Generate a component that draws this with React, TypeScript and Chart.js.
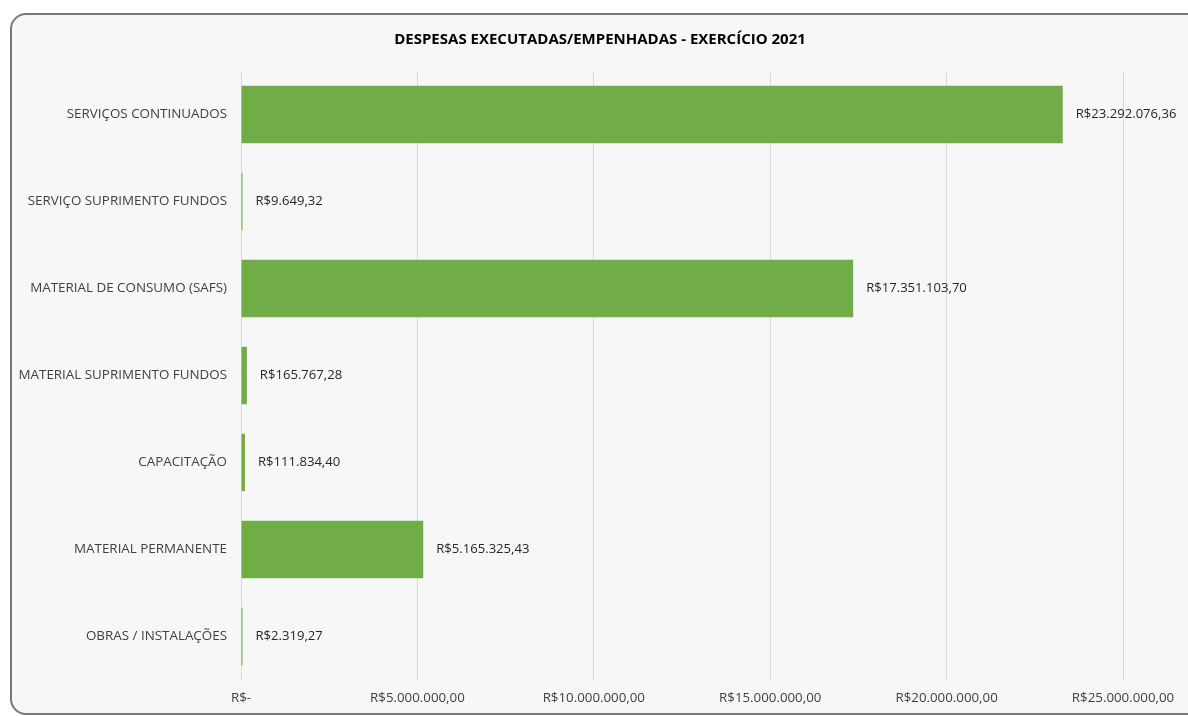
import React, { useEffect, useRef } from "react";
import { Chart, registerables } from "chart.js";

Chart.register(...registerables);

const categories = [
  "SERVIÇOS CONTINUADOS",
  "SERVIÇO SUPRIMENTO FUNDOS",
  "MATERIAL DE CONSUMO (SAFS)",
  "MATERIAL SUPRIMENTO FUNDOS",
  "CAPACITAÇÃO",
  "MATERIAL PERMANENTE",
  "OBRAS / INSTALAÇÕES",
];
const values = [23292076.36, 9649.32, 17351103.7, 165767.28, 111834.4, 5165325.43, 2319.27];
const title = "DESPESAS EXECUTADAS/EMPENHADAS - EXERCÍCIO 2021";
const axisMax = 25000000;
const axisStep = 5000000;

const FONT = "'Open Sans', 'Noto Sans', sans-serif";

function brl(v: number): string {
  if (v === 0) return "R$-";
  const fixed = v.toFixed(2);
  const [intPart, dec] = fixed.split(".");
  const withDots = intPart.replace(/\B(?=(\d{3})+(?!\d))/g, ".");
  return "R$" + withDots + "," + dec;
}

const valueLabels = {
  id: "valueLabels",
  afterDatasetsDraw(chart: any) {
    const ctx = chart.ctx;
    const meta = chart.getDatasetMeta(0);
    ctx.save();
    ctx.font = `13.1px ${FONT}`;
    ctx.fillStyle = "#262626";
    ctx.textAlign = "left";
    ctx.textBaseline = "middle";
    meta.data.forEach((el: any, i: number) => {
      ctx.fillText(brl(values[i]), el.x + 13, el.y);
    });
    ctx.restore();
  },
};

export default function App() {
  const ref = useRef<HTMLCanvasElement | null>(null);
  useEffect(() => {
    if (!ref.current) return;
    const chart = new Chart(ref.current, {
      type: "bar",
      data: {
        labels: categories,
        datasets: [
          {
            data: values,
            backgroundColor: "#70AD47",
            borderWidth: 0,
            barPercentage: 0.66,
            categoryPercentage: 1,
            minBarLength: 1.5,
          },
        ],
      },
      options: {
        indexAxis: "y",
        animation: false,
        responsive: true,
        maintainAspectRatio: false,
        layout: { padding: { left: 0, right: 0, top: 0, bottom: 0 } },
        plugins: {
          legend: { display: false },
          tooltip: { enabled: false },
          title: {
            display: true,
            text: title,
            color: "#000",
            font: { family: FONT, size: 15, weight: "bold" },
            padding: { top: 16, bottom: 22 },
          },
        },
        scales: {
          x: {
            min: 0,
            max: axisMax,
            ticks: {
              stepSize: axisStep,
              padding: 10,
              color: "#404040",
              font: { family: FONT, size: 13.3 },
              callback: (v: any) => brl(Number(v)),
              maxRotation: 0,
            },
            grid: { color: "#d9d9d9", drawTicks: false, lineWidth: 1 },
            border: { display: false },
            afterFit: (scale: any) => {
              scale.height = 33;
            },
          },
          y: {
            ticks: {
              padding: 14,
              color: "#404040",
              font: { family: FONT, size: 13.4 },
            },
            grid: { display: false, drawTicks: false },
            border: { display: false },
            afterFit: (scale: any) => {
              scale.width = 229;
            },
          },
          yRight: {
            type: "category",
            axis: "y",
            position: "right",
            display: true,
            ticks: { display: false },
            grid: { display: false, drawTicks: false },
            border: { display: false },
            afterFit: (scale: any) => {
              scale.width = 65;
            },
          },
        },
      },
      plugins: [valueLabels],
    });
    return () => chart.destroy();
  }, []);

  return (
    <div
      style={{
        position: "fixed",
        left: 0,
        top: 0,
        width: "100vw",
        height: "100vh",
        overflow: "hidden",
        background: "#fff",
      }}
    >
      <div
        style={{
          position: "absolute",
          left: 10,
          top: 13,
          width: 1196,
          height: 702,
          border: "2px solid #777",
          borderRadius: 16,
          background: "#f7f7f7",
          boxSizing: "border-box",
        }}
      >
        <div style={{ position: "absolute", left: 0, top: 0, width: 1176, height: 698 }}>
          <canvas ref={ref} />
        </div>
      </div>
    </div>
  );
}
